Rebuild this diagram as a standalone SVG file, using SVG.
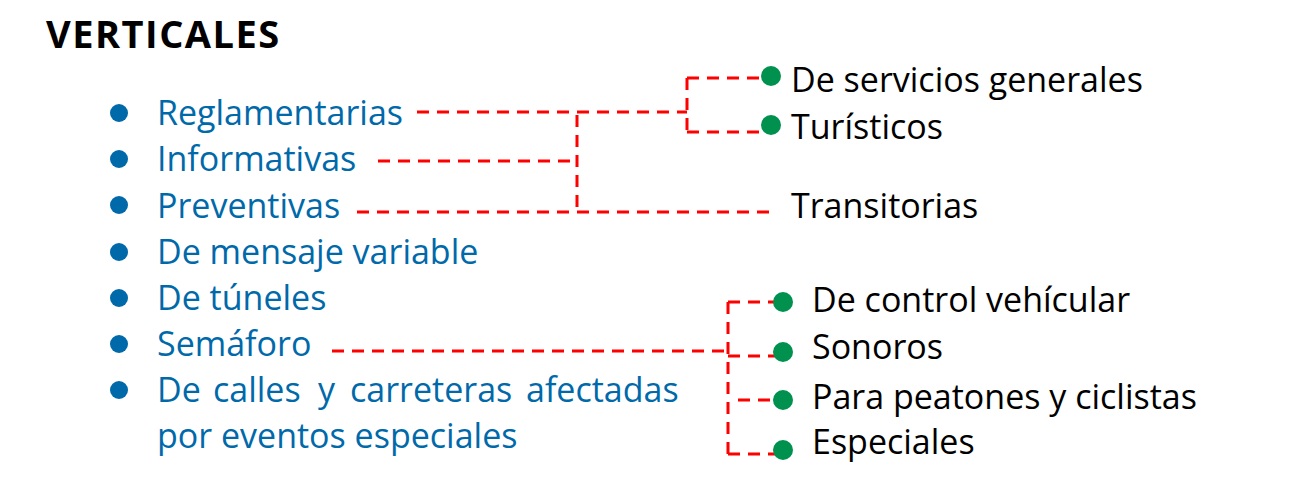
<svg xmlns="http://www.w3.org/2000/svg" width="1307" height="487" viewBox="0 0 1307 487">
<style>
.t{font-family:"Open Sans","Noto Sans",sans-serif;font-size:34px}
.b{fill:#0069AA}
.k{fill:#000}
.h{font-family:"Open Sans","Noto Sans",sans-serif;font-size:38px;font-weight:bold;letter-spacing:1.5px;fill:#000}
.c{fill:none;stroke:#FF0000;stroke-width:3;stroke-dasharray:12 8}
.bd{fill:#0069AA}
.gd{fill:#00914F}
</style>
<rect width="1307" height="487" fill="#fff"/>
<text id="title" class="h" x="46" y="48">VERTICALES</text>
<g id="connectors">
<path class="c" d="M417 112H687"/>
<path class="c" d="M687 78V132"/>
<path class="c" d="M687 78H762"/>
<path class="c" d="M687 132H762"/>
<path class="c" d="M378 161H577"/>
<path class="c" d="M577 115V212"/>
<path class="c" d="M357 212H776"/>
<path class="c" d="M332 351H728"/>
<path class="c" d="M728 302V455"/>
<path class="c" d="M728 302H775"/>
<path class="c" d="M728 356H775"/>
<path class="c" d="M738 400H775"/>
<path class="c" d="M728 454H775"/>
</g>
<g id="n-reglamentarias"><circle class="bd" cx="119" cy="113" r="9"/><text class="t b" x="157" y="125">Reglamentarias</text></g>
<g id="n-informativas"><circle class="bd" cx="119" cy="159" r="9"/><text class="t b" x="157" y="171">Informativas</text></g>
<g id="n-preventivas"><circle class="bd" cx="119" cy="205" r="9"/><text class="t b" x="157" y="218">Preventivas</text></g>
<g id="n-mensaje"><circle class="bd" cx="119" cy="252" r="9"/><text class="t b" x="157" y="264">De mensaje variable</text></g>
<g id="n-tuneles"><circle class="bd" cx="119" cy="298" r="9"/><text class="t b" x="157" y="310">De túneles</text></g>
<g id="n-semaforo"><circle class="bd" cx="119" cy="344" r="9"/><text class="t b" x="157" y="356">Semáforo</text></g>
<g id="n-calles"><circle class="bd" cx="119" cy="390" r="9"/><text class="t b" y="402"><tspan x="157">De</tspan> <tspan x="213">calles</tspan> <tspan x="318">y</tspan> <tspan x="350">carreteras</tspan> <tspan x="526">afectadas</tspan></text><text class="t b" x="157" y="448">por eventos especiales</text></g>
<g id="n-servicios"><circle class="gd" cx="771" cy="76" r="10"/><text class="t k" x="791" y="92">De servicios generales</text></g>
<g id="n-turisticos"><circle class="gd" cx="771" cy="125" r="10"/><text class="t k" x="791" y="139">Turísticos</text></g>
<g id="n-transitorias"><text class="t k" x="791" y="218">Transitorias</text></g>
<g id="n-control"><circle class="gd" cx="783" cy="302" r="10"/><text class="t k" x="812" y="312">De control vehícular</text></g>
<g id="n-sonoros"><circle class="gd" cx="783" cy="352" r="10"/><text class="t k" x="812" y="359">Sonoros</text></g>
<g id="n-peatones"><circle class="gd" cx="783" cy="400" r="10"/><text class="t k" x="812" y="409">Para peatones y ciclistas</text></g>
<g id="n-especiales"><circle class="gd" cx="783" cy="450" r="10"/><text class="t k" x="812" y="454">Especiales</text></g>
</svg>
